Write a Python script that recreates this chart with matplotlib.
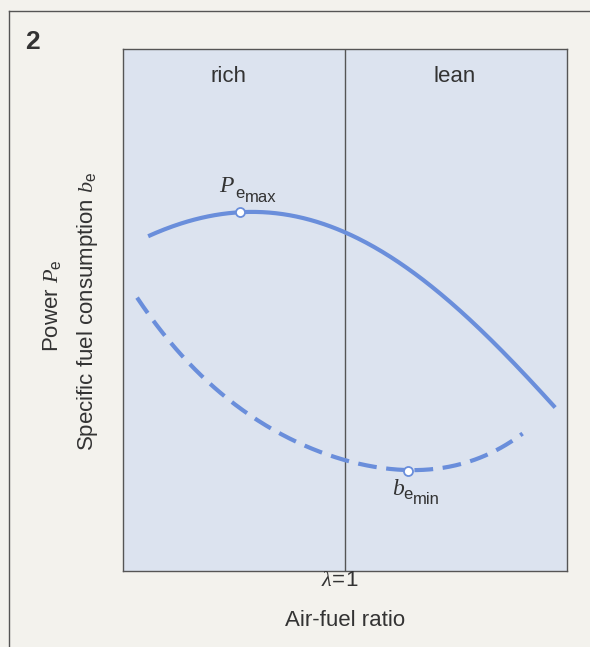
import matplotlib
matplotlib.use("Agg")
import matplotlib.pyplot as plt
import numpy as np

plt.rcParams['font.family'] = ['Liberation Sans', 'DejaVu Sans']
plt.rcParams['mathtext.fontset'] = 'custom'
plt.rcParams['mathtext.rm'] = 'Liberation Sans'
plt.rcParams['mathtext.it'] = 'Liberation Serif:italic'
plt.rcParams['mathtext.bf'] = 'Liberation Sans:bold'

# Data (x: excess-air factor lambda, y: relative value 0..100)
power_lambda = [0.734, 0.787, 0.858, 0.922, 1.003, 1.038, 1.084, 1.128, 1.173, 1.219, 1.284]
power_value = [64.0, 67.2, 68.8, 67.8, 64.9, 62.1, 58.2, 53.3, 47.5, 41.0, 31.4]
bsfc_lambda = [0.719, 0.741, 0.787, 0.831, 0.876, 0.922, 0.966, 1.003, 1.038, 1.085, 1.128, 1.173, 1.240]
bsfc_value = [52.3, 48.1, 40.0, 34.3, 29.3, 25.7, 22.8, 21.3, 19.9, 19.2, 19.7, 21.3, 26.3]
power_max = (0.858, 68.8)
bsfc_min = (1.085, 19.2)
region_labels = ["rich", "lean"]
stoich = 1.0

W, H = 590, 647
fig = plt.figure(figsize=(W/100, H/100), dpi=100)
fig.patch.set_facecolor('#f3f2ed')

def fx(p):
    return p / W

def fy(p):
    return 1 - p / H

# outer frame lines
fig.add_artist(plt.Line2D([fx(9), fx(9)], [0, fy(11)], color='#555555', lw=1.0))
fig.add_artist(plt.Line2D([fx(9), 1], [fy(11), fy(11)], color='#555555', lw=1.0))

ax = fig.add_axes([fx(123), fy(571), (567-123)/W, (571-49)/H])
ax.set_facecolor('#dce3ef')
for s in ax.spines.values():
    s.set_color('#555555')
    s.set_linewidth(1.0)
ax.set_xlim(0.7, 1.3)
ax.set_ylim(0, 100)
ax.set_xticks([])
ax.set_yticks([])

blue = '#6a8edb'
ax.axvline(stoich, color='#555555', lw=1.0)

px = np.array(power_lambda); py = np.array(power_value)
cp = np.polyfit(px, py, 4)
xs = np.linspace(px[0], px[-1], 300)
ax.plot(xs, np.polyval(cp, xs), color=blue, lw=3.0, solid_capstyle='butt')

bx = np.array(bsfc_lambda); by = np.array(bsfc_value)
cb = np.polyfit(bx, by, 4)
xb = np.linspace(bx[0], bx[-1], 300)
ax.plot(xb, np.polyval(cb, xb), color=blue, lw=3.0, dashes=(4.5, 2.3), dash_capstyle='butt')

ax.plot(*power_max, 'o', ms=6.5, mfc='white', mec=blue, mew=1.3, zorder=5)
ax.plot(*bsfc_min, 'o', ms=6.5, mfc='white', mec=blue, mew=1.3, zorder=5)

tc = '#333333'
fs = 16
fig.text(fx(229), fy(77), region_labels[0], ha='center', va='center', fontsize=fs, color=tc)
fig.text(fx(455), fy(77), region_labels[1], ha='center', va='center', fontsize=fs, color=tc)

# P_e,max label
fig.text(fx(219), fy(192), 'P', ha='left', va='baseline', fontsize=17, color=tc,
         family='Liberation Serif', style='italic')
fig.text(fx(235), fy(198), 'e', ha='left', va='baseline', fontsize=12, color=tc)
fig.text(fx(245), fy(202), 'max', ha='left', va='baseline', fontsize=12, color=tc)
# b_e,min label
fig.text(fx(392), fy(495), 'b', ha='left', va='baseline', fontsize=17, color=tc,
         family='Liberation Serif', style='italic')
fig.text(fx(403), fy(499), 'e', ha='left', va='baseline', fontsize=12, color=tc)
fig.text(fx(413), fy(504), 'min', ha='left', va='baseline', fontsize=12, color=tc)

fig.text(fx(340), fy(581), r'$\lambda\!=\!1$', ha='center', va='center', fontsize=16, color=tc)
fig.text(fx(345), fy(620), 'Air-fuel ratio', ha='center', va='center', fontsize=fs, color=tc)
fig.text(fx(52), fy(306), r'Power $P_\mathrm{e}$', ha='center', va='center', rotation=90,
         fontsize=fs, color=tc)
fig.text(fx(88), fy(311), r'Specific fuel consumption $b_\mathrm{e}$', ha='center', va='center',
         rotation=90, fontsize=fs, color=tc)
fig.text(fx(32), fy(42), '2', ha='center', va='center', fontsize=19, fontweight='bold', color=tc)

fig.savefig('out.png', dpi=100, facecolor=fig.get_facecolor())
